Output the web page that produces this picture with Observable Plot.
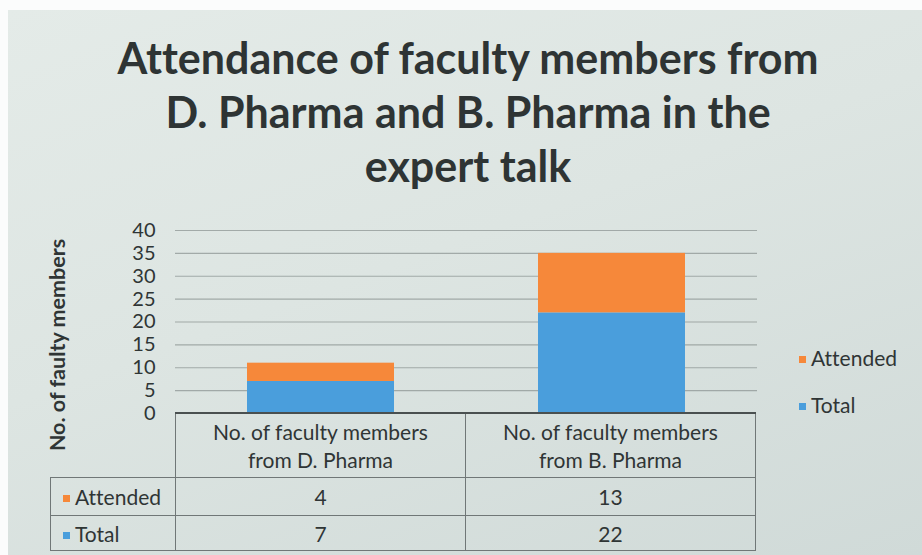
<!DOCTYPE html>
<html>
<head>
<meta charset="utf-8">
<script src="https://cdn.jsdelivr.net/npm/d3@7"></script>
<script src="https://cdn.jsdelivr.net/npm/@observablehq/plot@0.6"></script>
<style>
  html, body { margin: 0; padding: 0; background: #fbfcfc; }
  #frame {
    position: relative; width: 922px; height: 555px; overflow: hidden;
    font-family: Lato, "Open Sans", sans-serif; color: #2f3535;
    background: #fbfcfc; font-variant-ligatures: none;
  }
  #panel {
    position: absolute; left: 8px; top: 10px; right: 0; bottom: 0;
    background: linear-gradient(160deg, #e4ebe8 0%, #dde5e2 45%, #d0dad8 100%);
  }
  #title {
    position: absolute; left: 0; width: 936px; top: 31px;
    text-align: center; font-weight: 700; font-size: 43px; line-height: 54px;
    color: #2e3434; font-variant-ligatures: none; font-feature-settings: "liga" 0, "clig" 0;
  }
  #plot { position: absolute; left: 0; top: 205px; }
  #ylabel {
    position: absolute; left: 57px; top: 345px; transform: translate(-50%, -50%) rotate(-90deg);
    white-space: nowrap; font-weight: 700; font-size: 21.5px; color: #2f3535;
  }
  #legend { position: absolute; left: 799px; top: 345px; font-size: 21px; color: #2f3535; }
  #legend div { height: 26px; line-height: 26px; margin-bottom: 21px; white-space: nowrap; }
  .key { display: inline-block; width: 7px; height: 7px; margin-right: 5px; vertical-align: middle; position: relative; top: -1px; }
  table#dt {
    position: absolute; left: 50px; top: 412px; border-collapse: collapse;
    font-size: 21px; color: #2f3535;
  }
  #dt td { border: 1px solid #707777; text-align: center; padding: 0; white-space: nowrap; }
  #dt tr.head td { height: 63px; line-height: 28px; border-top: 2px solid #4a5050; }
  #dt tr.head td.blank { border: none; border-bottom: 1px solid #707777; }
  #dt tr.r1 td { height: 37px; }
  #dt tr.r2 td { height: 34px; }
  #dt td.lab { text-align: left; padding-left: 12px; width: 112px; }
  #dt td.c { width: 289px; max-width: 289px; }
</style>
</head>
<body>
<div id="frame">
  <div id="panel"></div>
  <div id="title"></div>
  <div id="plot"></div>
  <div id="ylabel"></div>
  <div id="legend"></div>
  <table id="dt"></table>
</div>
<script>
const titleLines = ["Attendance of faculty members from", "D. Pharma and B. Pharma in the", "expert talk"];
const yTitle = "No. of faulty members";
const categories = ["No. of faculty members from D. Pharma", "No. of faculty members from B. Pharma"];
const categoryLines = [["No. of faculty members", "from D. Pharma"], ["No. of faculty members", "from B. Pharma"]];
const seriesNames = ["Attended", "Total"];
const attended = [4, 13];
const total = [7, 22];
const yTicks = [0, 5, 10, 15, 20, 25, 30, 35, 40];
const colors = ["#f6883a", "#4a9edc"];

document.getElementById("title").innerHTML = titleLines.join("<br>");
document.getElementById("ylabel").textContent = yTitle;

// stacked rows: Total at bottom, Attended on top
const rows = categories.flatMap((c, i) => [
  {cat: c, series: "Total", value: total[i]},
  {cat: c, series: "Attended", value: attended[i]}
]);

const chart = Plot.plot({
  width: 922,
  height: 215,
  marginLeft: 175,
  marginRight: 165,
  marginTop: 25,
  marginBottom: 7,
  style: {background: "transparent", fontFamily: "Lato, 'Open Sans', sans-serif", color: "#2f3535", overflow: "visible"},
  x: {domain: categories, padding: 0, axis: null},
  y: {domain: [0, 40], axis: null},
  color: {domain: seriesNames, range: colors},
  marks: [
    Plot.ruleY(yTicks.filter(d => d > 0), {stroke: "#8d9594", strokeWidth: 1.2, strokeOpacity: 0.75}),
    Plot.barY(rows, {x: "cat", y: "value", fill: "series", insetLeft: 72, insetRight: 72}),
    Plot.axisY({ticks: yTicks, tickSize: 0, tickPadding: 20, fontSize: 20, label: null})
  ]
});
document.getElementById("plot").appendChild(chart);

// legend (Attended above Total)
const legend = document.getElementById("legend");
seriesNames.forEach((s, i) => {
  const d = document.createElement("div");
  d.innerHTML = `<span class="key" style="background:${colors[i]}"></span>${s}`;
  legend.appendChild(d);
});

// data table
const table = document.getElementById("dt");
let html = `<tr class="head"><td class="blank lab"></td>` +
  categoryLines.map(l => `<td class="c">${l.join("<br>")}</td>`).join("") + `</tr>`;
const vals = [attended, total];
seriesNames.forEach((s, i) => {
  html += `<tr class="r${i + 1}"><td class="lab"><span class="key" style="background:${colors[i]}"></span>${s}</td>` +
    vals[i].map(v => `<td class="c">${v}</td>`).join("") + `</tr>`;
});
table.innerHTML = html;
</script>
</body>
</html>
